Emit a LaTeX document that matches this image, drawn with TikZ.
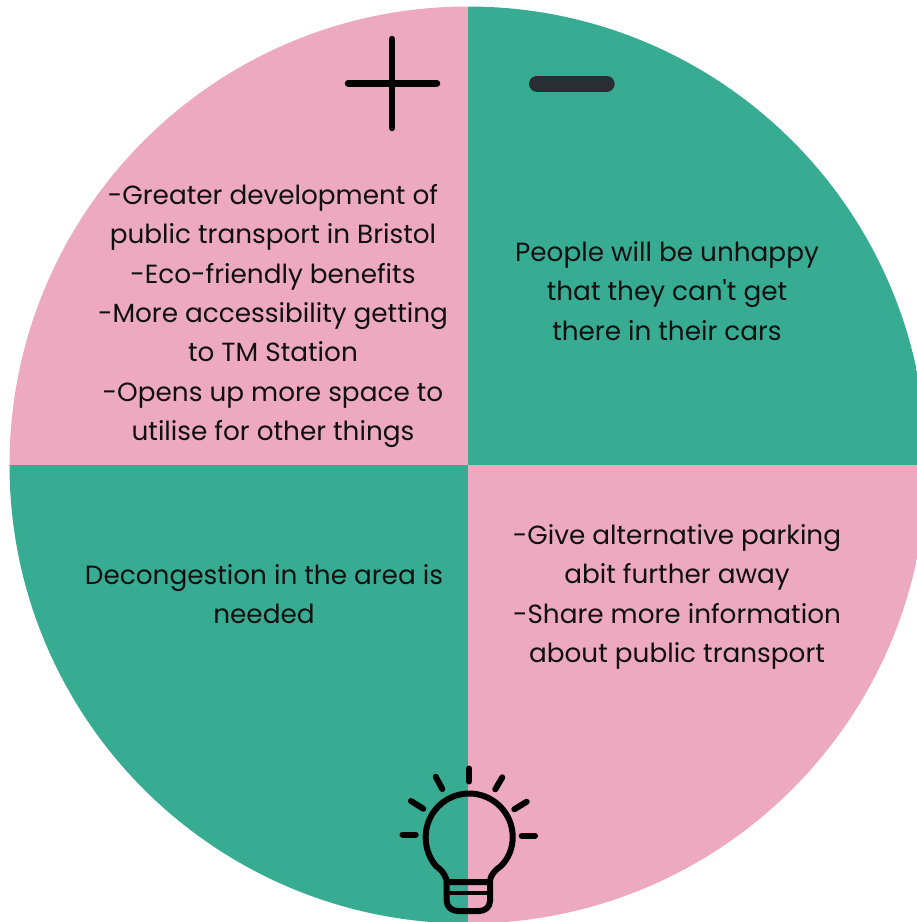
\documentclass[tikz,border=0pt]{standalone}
\usepackage{fontspec}
\setmainfont{Poppins}[Ligatures=TeXOff]
\definecolor{quadpink}{RGB}{237, 169, 192}
\definecolor{quadgreen}{RGB}{55, 172, 147}
\definecolor{inkdark}{RGB}{16, 16, 16}
\definecolor{minusdark}{RGB}{41, 46, 50}
\tikzset{
  quadtext/.style={font=\fontsize{26.3}{39.3}\selectfont, text=inkdark, align=center, inner sep=0pt},
  bulbline/.style={draw=black, line width=6pt, line cap=round, line join=round, fill=none}
}
\begin{document}
\begin{tikzpicture}[x=1pt,y=-1pt]
  \useasboundingbox (0,0) rectangle (917,922);

  % Quadrants
  \begin{scope}
    \clip (0,0) rectangle (917,922);
    \clip (468,465) circle[radius=458.5pt];
    \fill[quadpink] (0,0) rectangle (468,465);
    \fill[quadgreen] (468,0) rectangle (930,465);
    \fill[quadgreen] (0,465) rectangle (468,930);
    \fill[quadpink] (468,465) rectangle (930,930);
  \end{scope}

  % Plus and minus
  \draw[black, line width=6.5pt, line cap=round] (392,39) -- (392,128);
  \draw[black, line width=6.5pt, line cap=round] (348,83.3) -- (437,83.3);
  \draw[minusdark, line width=16pt, line cap=round] (537,83.7) -- (606.7,83.7);

  % Quadrant texts
  \node[quadtext] (pluslist) at (273,316) {-Greater development of\\public transport in Bristol\\-Eco-friendly benefits\\-More accessibility getting\\to TM Station\\-Opens up more space to\\utilise for other things};
  \node[quadtext] (minuslist) at (667,291) {People will be unhappy\\that they can't get\\there in their cars};
  \node[quadtext] (needlist) at (264,594) {Decongestion in the area is\\needed};
  \node[quadtext] (ideaslist) at (677,597) {-Give alternative parking\\abit further away\\-Share more information\\about public transport};

  % Light bulb
  \draw[bulbline] (446.7,881) .. controls (445,873) and (440,869) .. (436,866)
    .. controls (430,859) and (425.7,849) .. (425.7,837) arc[start angle=180, end angle=0, radius=43.5pt]
    .. controls (512.7,849) and (508,859) .. (501,866)
    .. controls (497,869) and (491,873) .. (490,881);
  \draw[bulbline] (446.7,882) -- (490,882) -- (490,901)
    .. controls (490,907) and (485,911) .. (479,911) -- (458,911)
    .. controls (452,911) and (446.7,907) .. (446.7,901) -- cycle;
  \draw[bulbline, line width=4.6pt] (447,893) -- (490,893);
  \foreach \xa/\ya/\xb/\yb in {469/768.5/469/781.5, 402.5/834.5/415.7/834.5, 521.7/835.7/535/835.7,
      435.7/776.7/442.3/789, 502.3/777.3/495.3/789.3, 411/801/423.3/808.7, 526.7/801.7/514.3/809.3}
    \draw[bulbline] (\xa,\ya) -- (\xb,\yb);
\end{tikzpicture}
\end{document}
